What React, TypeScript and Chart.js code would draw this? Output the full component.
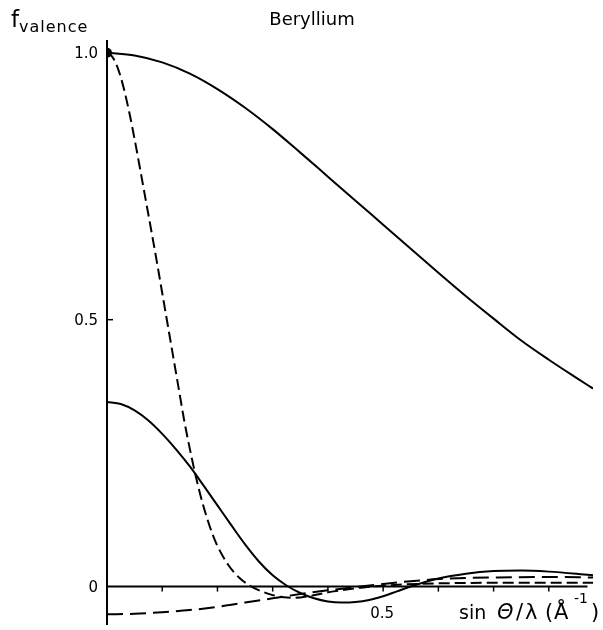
import { useEffect, useRef } from "react";
import { Chart, registerables } from "chart.js";

Chart.register(...registerables);

// Total valence form factor (upper solid curve)
const totalX = [0, 0.05, 0.1, 0.15, 0.2, 0.25, 0.3, 0.35, 0.4, 0.45, 0.5, 0.55, 0.6, 0.65, 0.7, 0.75, 0.8, 0.85, 0.88];
const totalY = [1.0, 0.995, 0.982, 0.961, 0.932, 0.897, 0.857, 0.813, 0.768, 0.723, 0.678, 0.633, 0.588, 0.544, 0.502, 0.461, 0.425, 0.391, 0.371];

// Steeply falling dashed curve
const steepX = [0, 0.01, 0.02, 0.03, 0.04, 0.05, 0.06, 0.07, 0.08, 0.09, 0.1, 0.11, 0.12, 0.13, 0.14, 0.15, 0.16, 0.17, 0.18, 0.19, 0.2, 0.22, 0.24, 0.26, 0.28, 0.3, 0.32, 0.34, 0.37, 0.41, 0.46, 0.52, 0.6, 0.7, 0.88];
const steepY = [1.0, 0.992, 0.97, 0.935, 0.89, 0.838, 0.782, 0.725, 0.668, 0.61, 0.55, 0.49, 0.43, 0.37, 0.31, 0.258, 0.21, 0.168, 0.132, 0.101, 0.076, 0.04, 0.016, 0.001, -0.009, -0.016, -0.02, -0.021, -0.017, -0.009, -0.002, 0.003, 0.006, 0.007, 0.007];

// Lower solid curve
const lowerX = [0, 0.025, 0.05, 0.075, 0.1, 0.125, 0.15, 0.175, 0.2, 0.225, 0.25, 0.275, 0.3, 0.325, 0.35, 0.375, 0.4, 0.425, 0.45, 0.475, 0.5, 0.525, 0.55, 0.6, 0.65, 0.7, 0.75, 0.8, 0.85, 0.88];
const lowerY = [0.346, 0.342, 0.33, 0.311, 0.286, 0.257, 0.225, 0.189, 0.152, 0.115, 0.079, 0.047, 0.021, 0.002, -0.012, -0.022, -0.028, -0.03, -0.029, -0.025, -0.018, -0.009, 0.0, 0.015, 0.024, 0.029, 0.03, 0.028, 0.024, 0.021];

// Long-dashed curve starting below zero
const longX = [0, 0.05, 0.1, 0.15, 0.2, 0.25, 0.3, 0.35, 0.4, 0.45, 0.5, 0.55, 0.6, 0.65, 0.7, 0.8, 0.88];
const longY = [-0.052, -0.051, -0.048, -0.044, -0.038, -0.03, -0.022, -0.014, -0.007, -0.001, 0.005, 0.01, 0.014, 0.016, 0.017, 0.018, 0.017];

// Normalisation point
const dotX = [0];
const dotY = [1.0];

const xTickValues = [0.1, 0.2, 0.3, 0.4, 0.5, 0.6, 0.7, 0.8];
const xLabelValues = [0.5];
const xLabelTexts = ["0.5"];
const yTickValues = [0.5];
const yLabelValues = [0, 0.5, 1.0];
const yLabelTexts = ["0", "0.5", "1.0"];

const X_MIN = 0;
const X_MAX = 0.88;
const X_AXIS_END = 0.87;
const Y_MIN = -0.072;
const Y_MAX = 1.024;

const FONT = "'DejaVu Sans', sans-serif";

const zip = (xs: number[], ys: number[]) => xs.map((x, i) => ({ x, y: ys[i] }));

const axesPlugin = {
  id: "paperAxes",
  beforeDatasetsDraw(chart: any) {
    const { ctx, scales } = chart;
    const x = scales.x;
    const y = scales.y;
    const x0 = x.getPixelForValue(0);
    const y0 = y.getPixelForValue(0);
    ctx.save();
    ctx.strokeStyle = "#000";
    ctx.lineWidth = 2;
    ctx.lineCap = "butt";
    // vertical axis
    ctx.beginPath();
    ctx.moveTo(x0, y.getPixelForValue(Y_MAX));
    ctx.lineTo(x0, y.getPixelForValue(Y_MIN));
    ctx.stroke();
    // horizontal axis at zero
    ctx.beginPath();
    ctx.moveTo(x0, y0);
    ctx.lineTo(x.getPixelForValue(X_AXIS_END), y0);
    ctx.stroke();
    // x tick marks
    ctx.lineWidth = 1.5;
    for (const v of xTickValues) {
      const px = x.getPixelForValue(v);
      ctx.beginPath();
      ctx.moveTo(px, y0);
      ctx.lineTo(px, y0 + 5);
      ctx.stroke();
    }
    // y tick marks
    for (const v of yTickValues) {
      const py = y.getPixelForValue(v);
      ctx.beginPath();
      ctx.moveTo(x0, py);
      ctx.lineTo(x0 + 6, py);
      ctx.stroke();
    }
    ctx.restore();
  },
  afterDraw(chart: any) {
    const { ctx, scales } = chart;
    const x = scales.x;
    const y = scales.y;
    const x0 = x.getPixelForValue(0);
    const y0 = y.getPixelForValue(0);
    ctx.save();
    ctx.fillStyle = "#000";
    ctx.textBaseline = "alphabetic";

    // y labels
    ctx.font = `15px ${FONT}`;
    ctx.textAlign = "right";
    yLabelValues.forEach((v, i) => {
      ctx.fillText(yLabelTexts[i], x0 - 9, y.getPixelForValue(v) + 5.5);
    });

    // x labels
    ctx.textAlign = "center";
    xLabelValues.forEach((v, i) => {
      ctx.fillText(xLabelTexts[i], x.getPixelForValue(v) - 1, y0 + 31);
    });

    // title
    ctx.font = `18px ${FONT}`;
    ctx.textAlign = "center";
    ctx.fillText("Beryllium", 312, 25);

    // y axis title: f with subscript
    ctx.textAlign = "left";
    ctx.font = `23px ${FONT}`;
    ctx.fillText("f", 11, 27);
    ctx.font = `16px ${FONT}`;
    (ctx as any).letterSpacing = "1px";
    ctx.fillText("valence", 19, 32);
    (ctx as any).letterSpacing = "0px";

    // x axis title: sin Θ/λ(Å⁻¹)
    const base = y0 + 32;
    ctx.font = `19px ${FONT}`;
    ctx.fillText("sin", 459, base);
    ctx.font = `italic 21px ${FONT}`;
    ctx.fillText("\u0398", 497, base);
    ctx.font = `21px ${FONT}`;
    ctx.fillText("/", 516, base);
    ctx.fillText("\u03bb", 525, base);
    ctx.fillText("(", 545, base);
    ctx.fillText("\u00c5", 554, base);
    ctx.font = `14px ${FONT}`;
    ctx.fillText("-1", 574, base - 16);
    ctx.font = `21px ${FONT}`;
    ctx.fillText(")", 591, base);
    ctx.restore();
  },
};

const lineStyle = {
  borderColor: "#000",
  borderWidth: 2,
  pointRadius: 0,
  fill: false,
  cubicInterpolationMode: "monotone" as const,
  borderCapStyle: "butt" as const,
};

export default function App() {
  const canvasRef = useRef<HTMLCanvasElement | null>(null);

  useEffect(() => {
    const canvas = canvasRef.current;
    if (!canvas) return;
    const chart = new Chart(canvas, {
      type: "line",
      data: {
        datasets: [
          { ...lineStyle, data: zip(totalX, totalY) },
          { ...lineStyle, data: zip(steepX, steepY), borderDash: [11, 5] },
          { ...lineStyle, data: zip(lowerX, lowerY) },
          { ...lineStyle, data: zip(longX, longY), borderDash: [16, 7] },
          {
            data: zip(dotX, dotY),
            showLine: false,
            pointRadius: 5,
            pointBackgroundColor: "#000",
            pointBorderColor: "#000",
            pointBorderWidth: 0,
          },
        ],
      },
      options: {
        responsive: false,
        animation: false,
        devicePixelRatio: 1,
        layout: { padding: { left: 107, right: 10, top: 40, bottom: 0 } },
        scales: {
          x: { type: "linear", min: X_MIN, max: X_MAX, display: false },
          y: { type: "linear", min: Y_MIN, max: Y_MAX, display: false },
        },
        plugins: {
          legend: { display: false },
          tooltip: { enabled: false },
        },
      },
      plugins: [axesPlugin],
    });
    return () => chart.destroy();
  }, []);

  return (
    <div style={{ position: "absolute", left: 0, top: 0, width: 603, height: 630, background: "#fff" }}>
      <canvas ref={canvasRef} width={603} height={630} style={{ display: "block" }} />
    </div>
  );
}
